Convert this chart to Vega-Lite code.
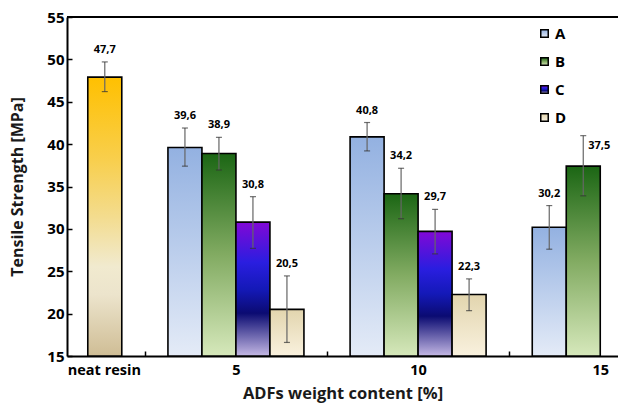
{
  "$schema": "https://vega.github.io/schema/vega-lite/v6.json",
  "width": 551,
  "height": 339,
  "autosize": {"type": "none"},
  "padding": {"left": 67, "top": 17, "right": 0, "bottom": 49},
  "background": "white",
  "config": {
    "view": {"stroke": null},
    "font": "Open Sans",
    "axis": {"labelFont": "Open Sans", "titleFont": "Open Sans", "labelFontWeight": "bold", "titleFontWeight": "bold", "labelColor": "#000", "titleColor": "#1a1a1a", "domainColor": "#000", "domainWidth": 2, "tickColor": "#000", "tickWidth": 1.5, "grid": false}
  },
  "data": {
    "values": [
      {"content": 0, "series": "neat", "value": 47.9, "lo": 46.2, "hi": 49.7, "label": "47,7"},
      {"content": 5, "series": "A", "value": 39.6, "lo": 37.4, "hi": 41.9, "label": "39,6"},
      {"content": 5, "series": "B", "value": 38.9, "lo": 36.95, "hi": 40.8, "label": "38,9"},
      {"content": 5, "series": "C", "value": 30.8, "lo": 27.7, "hi": 33.8, "label": "30,8"},
      {"content": 5, "series": "D", "value": 20.5, "lo": 16.6, "hi": 24.45, "label": "20,5"},
      {"content": 10, "series": "A", "value": 40.85, "lo": 39.2, "hi": 42.55, "label": "40,8"},
      {"content": 10, "series": "B", "value": 34.15, "lo": 31.2, "hi": 37.15, "label": "34,2"},
      {"content": 10, "series": "C", "value": 29.7, "lo": 27.05, "hi": 32.3, "label": "29,7"},
      {"content": 10, "series": "D", "value": 22.25, "lo": 20.35, "hi": 24.1, "label": "22,3"},
      {"content": 15, "series": "A", "value": 30.2, "lo": 27.6, "hi": 32.75, "label": "30,2"},
      {"content": 15, "series": "B", "value": 37.4, "lo": 33.9, "hi": 41.0, "label": "37,5"}
    ]
  },
  "encoding": {
    "x": {
      "field": "content",
      "type": "quantitative",
      "scale": {"domain": [0.5, 15.35], "nice": false, "zero": false},
      "axis": {
        "title": "ADFs weight content [%]",
        "titleFontSize": 16.5,
        "titlePadding": 9,
        "values": [1.375, 2.5, 5, 7.5, 10, 12.5, 15],
        "labelExpr": "datum.value < 2 ? 'neat resin' : (datum.value % 5 == 0 ? '' + datum.value : '')",
        "labelFontSize": 14.5,
        "labelPadding": 12,
        "labelFlush": false,
        "labelOverlap": false,
        "labelBound": false,
        "tickSize": -5,
        "tickOpacity": {"condition": {"test": "datum.value % 5 == 2.5", "value": 1}, "value": 0}
      }
    }
  },
  "layer": [
    {
      "mark": {"type": "rule", "stroke": "#000", "strokeWidth": 1.5},
      "encoding": {"y": {"datum": 55, "type": "quantitative", "title": "Tensile Strength [MPa]"}, "x": {"value": 0}, "x2": {"value": 551}}
    },
    {
      "mark": {"type": "bar", "width": 34, "stroke": "#000", "strokeWidth": 1.6, "xOffset": {"expr": "datum.series === 'A' ? -51 : datum.series === 'B' ? -17 : datum.series === 'C' ? 17 : 51"}},
      "encoding": {
        "y": {
          "field": "value",
          "type": "quantitative",
          "stack": null,
          "title": "Tensile Strength [MPa]",
          "scale": {"domain": [15, 55], "nice": false, "zero": false},
          "axis": {"values": [15, 20, 25, 30, 35, 40, 45, 50, 55], "labelFontSize": 15, "labelPadding": 8, "tickSize": -5, "titleFontSize": 16, "titlePadding": 21}
        },
        "y2": {"datum": 15},
        "color": {
          "field": "series",
          "type": "nominal",
          "scale": {
            "domain": ["neat", "A", "B", "C", "D"],
            "range": [
              {"expr": "{gradient: 'linear', x1: 0, y1: 0, x2: 0, y2: 1, stops: [{offset: 0, color: '#ffc000'}, {offset: 0.3, color: '#f8cf4e'}, {offset: 0.5, color: '#f3dc8e'}, {offset: 0.68, color: '#f1eacf'}, {offset: 0.78, color: '#ece4cc'}, {offset: 1, color: '#cfbd95'}]}"},
              {"expr": "{gradient: 'linear', x1: 0, y1: 0, x2: 0, y2: 1, stops: [{offset: 0, color: '#93b1e1'}, {offset: 1, color: '#e4ebf7'}]}"},
              {"expr": "{gradient: 'linear', x1: 0, y1: 0, x2: 0, y2: 1, stops: [{offset: 0, color: '#1b6614'}, {offset: 0.5, color: '#82ab62'}, {offset: 1, color: '#d6e8bb'}]}"},
              {"expr": "{gradient: 'linear', x1: 0, y1: 0, x2: 0, y2: 1, stops: [{offset: 0, color: '#8208d6'}, {offset: 0.3, color: '#2a1ee0'}, {offset: 0.5, color: '#1419b8'}, {offset: 0.68, color: '#0b0b72'}, {offset: 1, color: '#c4b8e4'}]}"},
              {"expr": "{gradient: 'linear', x1: 0, y1: 0, x2: 0, y2: 1, stops: [{offset: 0, color: '#e2d5ae'}, {offset: 1, color: '#f9f1de'}]}"}
            ]
          },
          "legend": {
            "values": ["A", "B", "C", "D"],
            "title": null,
            "orient": "none",
            "legendX": 470,
            "legendY": 9,
            "padding": 0,
            "symbolType": "square",
            "symbolSize": 56,
            "symbolStrokeColor": "#000",
            "symbolStrokeWidth": 1.5,
            "labelFont": "Open Sans",
            "labelFontSize": 15,
            "labelFontWeight": "bold",
            "labelColor": "#000",
            "labelOffset": 3,
            "rowPadding": 12
          }
        }
      }
    },
    {
      "mark": {"type": "rule", "stroke": "#666", "strokeWidth": 1.2, "xOffset": {"expr": "datum.series === 'A' ? -51 : datum.series === 'B' ? -17 : datum.series === 'C' ? 17 : 51"}},
      "encoding": {"y": {"field": "lo", "type": "quantitative", "title": "Tensile Strength [MPa]"}, "y2": {"field": "hi"}}
    },
    {
      "mark": {"type": "tick", "orient": "horizontal", "size": 6, "thickness": 1.2, "color": "#333", "xOffset": {"expr": "datum.series === 'A' ? -51 : datum.series === 'B' ? -17 : datum.series === 'C' ? 17 : 51"}},
      "encoding": {"y": {"field": "lo", "type": "quantitative", "title": "Tensile Strength [MPa]"}}
    },
    {
      "mark": {"type": "tick", "orient": "horizontal", "size": 6, "thickness": 1.2, "color": "#333", "xOffset": {"expr": "datum.series === 'A' ? -51 : datum.series === 'B' ? -17 : datum.series === 'C' ? 17 : 51"}},
      "encoding": {"y": {"field": "hi", "type": "quantitative", "title": "Tensile Strength [MPa]"}}
    },
    {
      "transform": [{"filter": "!(datum.series === 'B' && datum.content === 15)"}],
      "mark": {"type": "text", "font": "Open Sans", "fontWeight": "bold", "fontSize": 11, "color": "#000", "baseline": "middle", "dy": -12, "xOffset": {"expr": "datum.series === 'A' ? -51 : datum.series === 'B' ? -17 : datum.series === 'C' ? 17 : 51"}},
      "encoding": {"y": {"field": "hi", "type": "quantitative", "title": "Tensile Strength [MPa]"}, "text": {"field": "label"}}
    },
    {
      "transform": [{"filter": "datum.series === 'B' && datum.content === 15"}],
      "mark": {"type": "text", "font": "Open Sans", "fontWeight": "bold", "fontSize": 11, "color": "#000", "baseline": "middle", "align": "left", "dx": 5, "dy": 10, "xOffset": -17},
      "encoding": {"y": {"field": "hi", "type": "quantitative", "title": "Tensile Strength [MPa]"}, "text": {"field": "label"}}
    }
  ]
}
